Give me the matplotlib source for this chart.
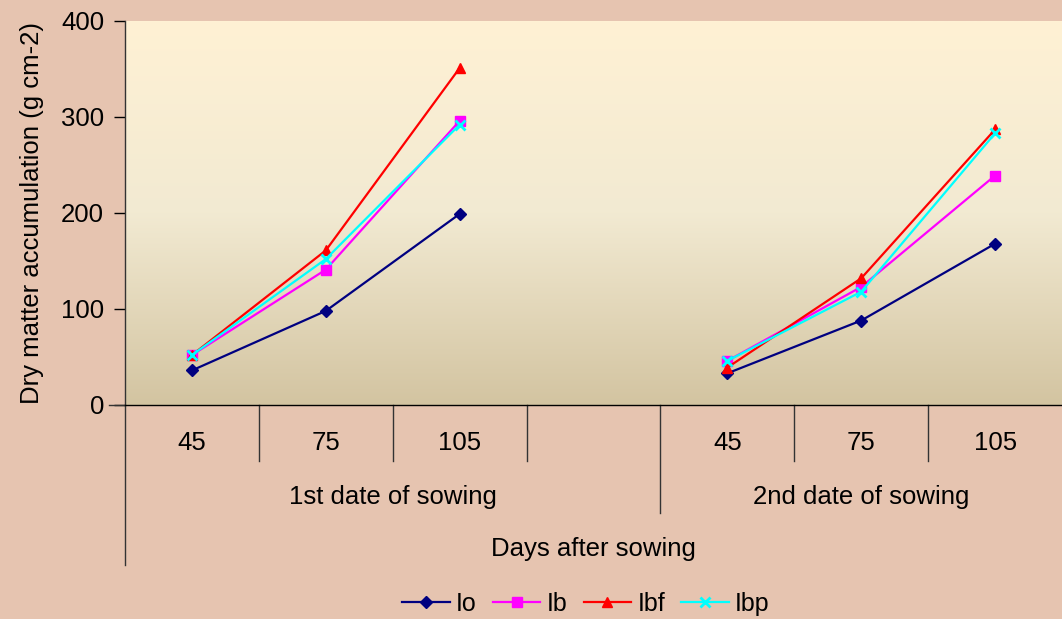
import numpy as np
import matplotlib.pyplot as plt
from matplotlib.colors import LinearSegmentedColormap

plt.rcParams['font.family'] = ['Liberation Sans', 'DejaVu Sans']

# days after sowing, two sowing dates with an empty slot between them
days = ['45', '75', '105', '', '45', '75', '105']
groups = ['1st date of sowing', '2nd date of sowing']
nan = np.nan

io = [36, 98, 199, nan, 33, 88, 168]
ib = [52, 141, 296, nan, 46, 123, 239]
ibf = [52, 161, 351, nan, 39, 132, 287]
ibp = [52, 152, 292, nan, 46, 118, 283]

series = [
    ('Io', io, '#000080', 'D', 6.5),
    ('Ib', ib, '#FF00FF', 's', 6.5),
    ('Ibf', ibf, '#FF0000', '^', 7.5),
    ('Ibp', ibp, '#00FFFF', 'x', 7.5),
]

FS = 18.5
bg = '#E6C4B0'
fig = plt.figure(figsize=(10.62, 6.19), dpi=100, facecolor=bg)
ax = fig.add_axes([125 / 1062, 1 - 405 / 619, 937 / 1062, 384 / 619])
ax.set_facecolor(bg)

x = np.arange(len(days))
ax.set_xlim(-0.5, 6.5)
ax.set_ylim(0, 400)

# cream to tan gradient behind the lines
cmap = LinearSegmentedColormap.from_list('bgfade', ['#D3C4A1', '#F2EAD2', '#FFF1D4'])
grad = np.linspace(0, 1, 256).reshape(-1, 1)
ax.imshow(grad, cmap=cmap, origin='lower', aspect='auto',
          extent=(-0.5, 6.5, 0, 400), zorder=0)

for name, vals, col, mk, ms in series:
    mew = 2 if mk == 'x' else 1
    ax.plot(x, vals, color=col, lw=1.6, marker=mk, ms=ms, mew=mew,
            mec=col, mfc=col, label=name, zorder=3)

for s in ['top', 'right']:
    ax.spines[s].set_visible(False)
ax.spines['left'].set_linewidth(1.0)
ax.spines['bottom'].set_linewidth(1.0)
ax.spines['left'].set_color('#333333')

ax.set_yticks([0, 100, 200, 300, 400])
ax.tick_params(axis='y', labelsize=FS, length=8, width=1, direction='out', pad=7)
ax.set_xticks([])
ax.set_ylabel('Dry matter accumulation (g cm-2)', fontsize=FS, labelpad=12)

# multi-level category axis below the plot
trans = ax.get_xaxis_transform()
h = 384
def yfrac(py):
    return (405 - py) / h

ax.plot([-0.5, -0.5], [0, yfrac(565)], color='#333333', lw=1, transform=trans, clip_on=False)
for b in [0.5, 1.5, 2.5, 4.5, 5.5]:
    ax.plot([b, b], [0, yfrac(461)], color='#333333', lw=1, transform=trans, clip_on=False)
ax.plot([3.5, 3.5], [0, yfrac(513)], color='#333333', lw=1, transform=trans, clip_on=False)
ax.plot([-0.62, -0.5], [0, 0], color='#333333', lw=1, transform=trans, clip_on=False)

for xi, lab in zip(x, days):
    ax.text(xi, yfrac(443), lab, transform=trans, ha='center', va='center', fontsize=FS)
ax.text(1.5, yfrac(497), groups[0], transform=trans, ha='center', va='center', fontsize=FS)
ax.text(5.0, yfrac(497), groups[1], transform=trans, ha='center', va='center', fontsize=FS)
ax.text(3.0, yfrac(549), 'Days after sowing', transform=trans, ha='center', va='center', fontsize=FS)

fig.legend(loc='center', bbox_to_anchor=(586 / 1062, 1 - 604 / 619), ncol=4,
           frameon=False, fontsize=18, handlelength=1.9, handletextpad=0.25,
           columnspacing=0.65, borderaxespad=0)

fig.savefig('out.png', dpi=100, facecolor=bg)
